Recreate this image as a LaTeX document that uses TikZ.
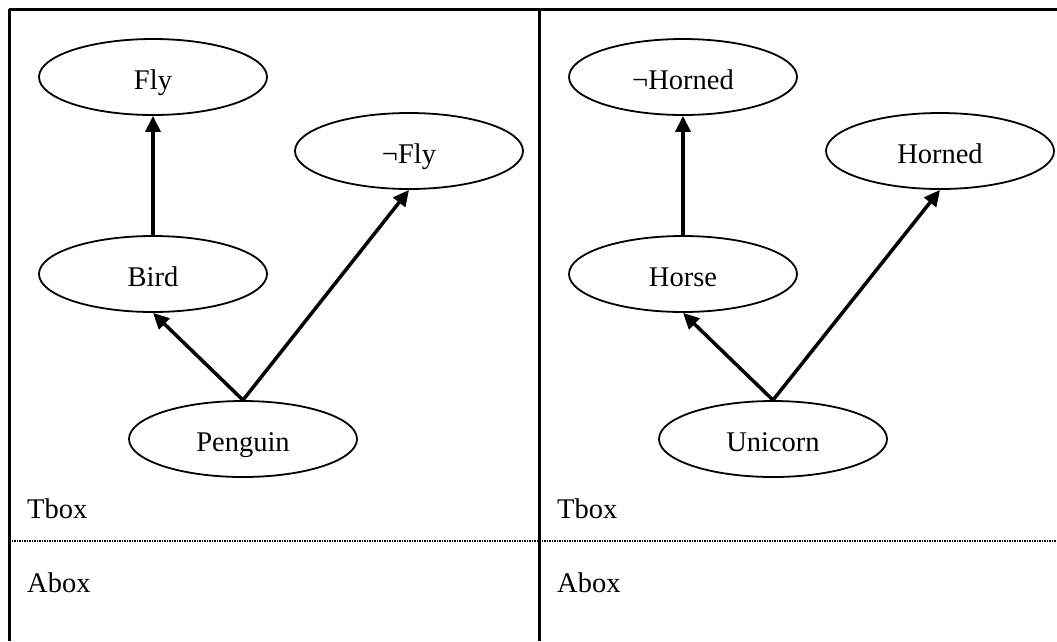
\documentclass[tikz,border=0pt]{standalone}
\usepackage{fontspec}
\setmainfont{Liberation Serif}
\usetikzlibrary{shapes.geometric,arrows.meta}
\tikzset{
  concept/.style={draw, line width=1.8pt, ellipse, minimum width=228pt, minimum height=76pt,
    inner sep=0pt, text height=28pt, text depth=4pt, font=\fontsize{28.5}{33}\selectfont},
  isa/.style={line width=3.5pt, -{Triangle[length=16pt,width=15pt]}},
  boxlabel/.style={anchor=west, inner sep=0pt, font=\fontsize{28.5}{33}\selectfont},
  frame/.style={line width=3pt},
  divider/.style={line width=1.8pt, dash pattern=on 1.5pt off 1pt}
}
\begin{document}
\begin{tikzpicture}[x=1pt,y=-1pt]
\useasboundingbox (0,0) rectangle (1057,641);
% table frame
\draw[frame] (9,9) -- (1057,9);
\draw[frame] (9,9) -- (9,641);
\draw[frame] (539,9) -- (539,641);
\draw[divider] (9,541) -- (1057,541);

% left panel: birds
\node[concept] (fly) at (153,77) {Fly};
\node[concept] (nfly) at (409,151) {¬Fly};
\node[concept] (bird) at (153,274) {Bird};
\node[concept] (penguin) at (243,439) {Penguin};
\draw[isa] (bird.north) -- (fly.south);
\draw[isa] (penguin.north) -- (bird.south);
\draw[isa] (penguin.north) -- (nfly.south);
\node[boxlabel] (tboxL) at (27,509) {Tbox};
\node[boxlabel] (aboxL) at (27,583) {Abox};

% right panel: horses
\node[concept] (nhorned) at (683,77) {¬Horned};
\node[concept] (horned) at (940,151) {Horned};
\node[concept] (horse) at (683,274) {Horse};
\node[concept] (unicorn) at (773,439) {Unicorn};
\draw[isa] (horse.north) -- (nhorned.south);
\draw[isa] (unicorn.north) -- (horse.south);
\draw[isa] (unicorn.north) -- (horned.south);
\node[boxlabel] (tboxR) at (557,509) {Tbox};
\node[boxlabel] (aboxR) at (557,583) {Abox};
\end{tikzpicture}
\end{document}
